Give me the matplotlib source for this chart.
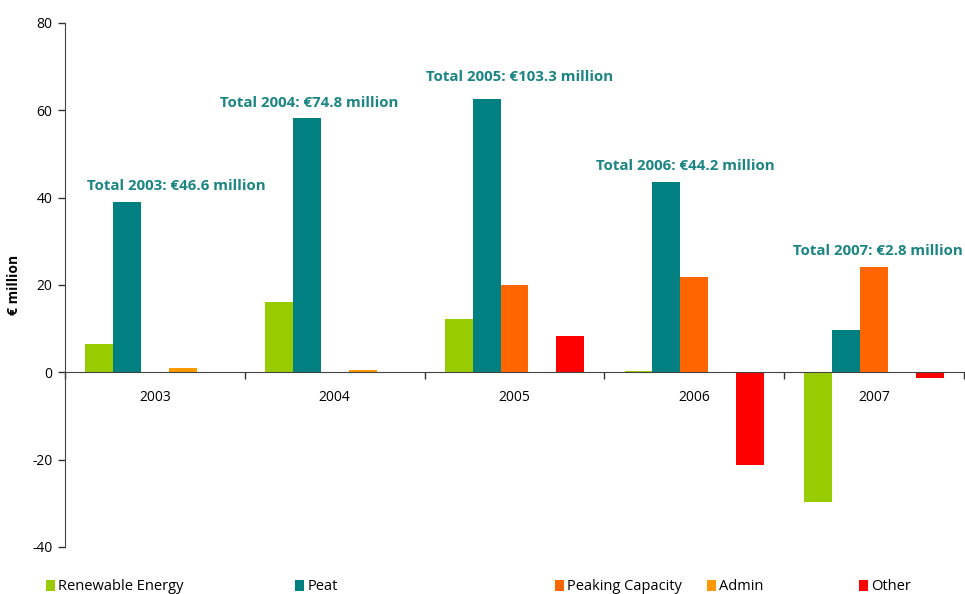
import matplotlib.pyplot as plt
import numpy as np
from matplotlib.patches import Patch

years = ["2003", "2004", "2005", "2006", "2007"]
series_names = ["Renewable Energy", "Peat", "Peaking Capacity", "Admin", "Other"]
renewable = [6.6, 16.0, 12.2, 0.2, -29.8]
peat = [38.9, 58.3, 62.7, 43.5, 9.6]
peaking = [0.0, 0.0, 20.0, 21.8, 24.2]
admin = [1.1, 0.5, 0.0, 0.0, 0.0]
other = [0.0, 0.0, 8.4, -21.3, -1.2]
totals = [46.6, 74.8, 103.3, 44.2, 2.8]

colors = ["#99cc00", "#008080", "#ff6600", "#ff9900", "#ff0000"]
label_color = "#1a8583"

plt.rcParams["font.family"] = ["Open Sans", "DejaVu Sans"]
plt.rcParams["axes.unicode_minus"] = False

fig = plt.figure(figsize=(9.65, 5.94), dpi=100)
ax = fig.add_axes([65 / 965, (594 - 547) / 594, (964 - 65) / 965, (547 - 23) / 594])

x = np.arange(len(years))
bw = 0.155
series = [renewable, peat, peaking, admin, other]
for k, (vals, c) in enumerate(zip(series, colors)):
    ax.bar(x + (k - 2) * bw, vals, width=bw, color=c, linewidth=0)

ax.set_xlim(-0.5, len(years) - 0.5)
ax.set_ylim(-40, 80)
ax.set_yticks([-40, -20, 0, 20, 40, 60, 80])
ax.tick_params(axis="y", labelsize=10, length=5, width=1, color="#333333", pad=4)
ax.set_ylabel("€ million", fontsize=10, fontweight="bold")
ax.yaxis.set_label_coords(-44 / 899, 0.5)

ax.spines["top"].set_visible(False)
ax.spines["right"].set_visible(False)
ax.spines["bottom"].set_position(("data", 0))
ax.spines["left"].set_color("#444444")
ax.spines["bottom"].set_color("#444444")

ax.set_xticks(np.arange(-0.5, len(years), 1.0))
ax.set_xticklabels([])
ax.tick_params(axis="x", which="major", length=5, width=1, color="#333333")
ax.set_xticks(x, minor=True)
ax.set_xticklabels(years, minor=True, fontsize=10)
ax.tick_params(axis="x", which="minor", length=0, pad=13)

# Total labels for each year
label_pos = [(0.117, 42.7), (0.856, 61.7), (2.03, 67.7), (2.95, 47.3), (4.02, 27.9)]
for yr, tot, (px, py) in zip(years, totals, label_pos):
    ax.text(px, py, f"Total {yr}: €{tot} million", ha="center", va="center",
            fontsize=10.8, fontweight="bold", color=label_color)

# Legend entries along the bottom edge
legend_x = [46, 295, 555, 707, 859]
for name, c, lx in zip(series_names, colors, legend_x):
    fig.legend(handles=[Patch(facecolor=c, edgecolor="none")], labels=[name],
               loc="center left", bbox_to_anchor=(lx / 965, 1 - 587 / 594),
               frameon=False, fontsize=10.5, handlelength=0.65, handleheight=0.85,
               handletextpad=0.2, borderpad=0, borderaxespad=0)

fig.savefig("out.png", dpi=100)
